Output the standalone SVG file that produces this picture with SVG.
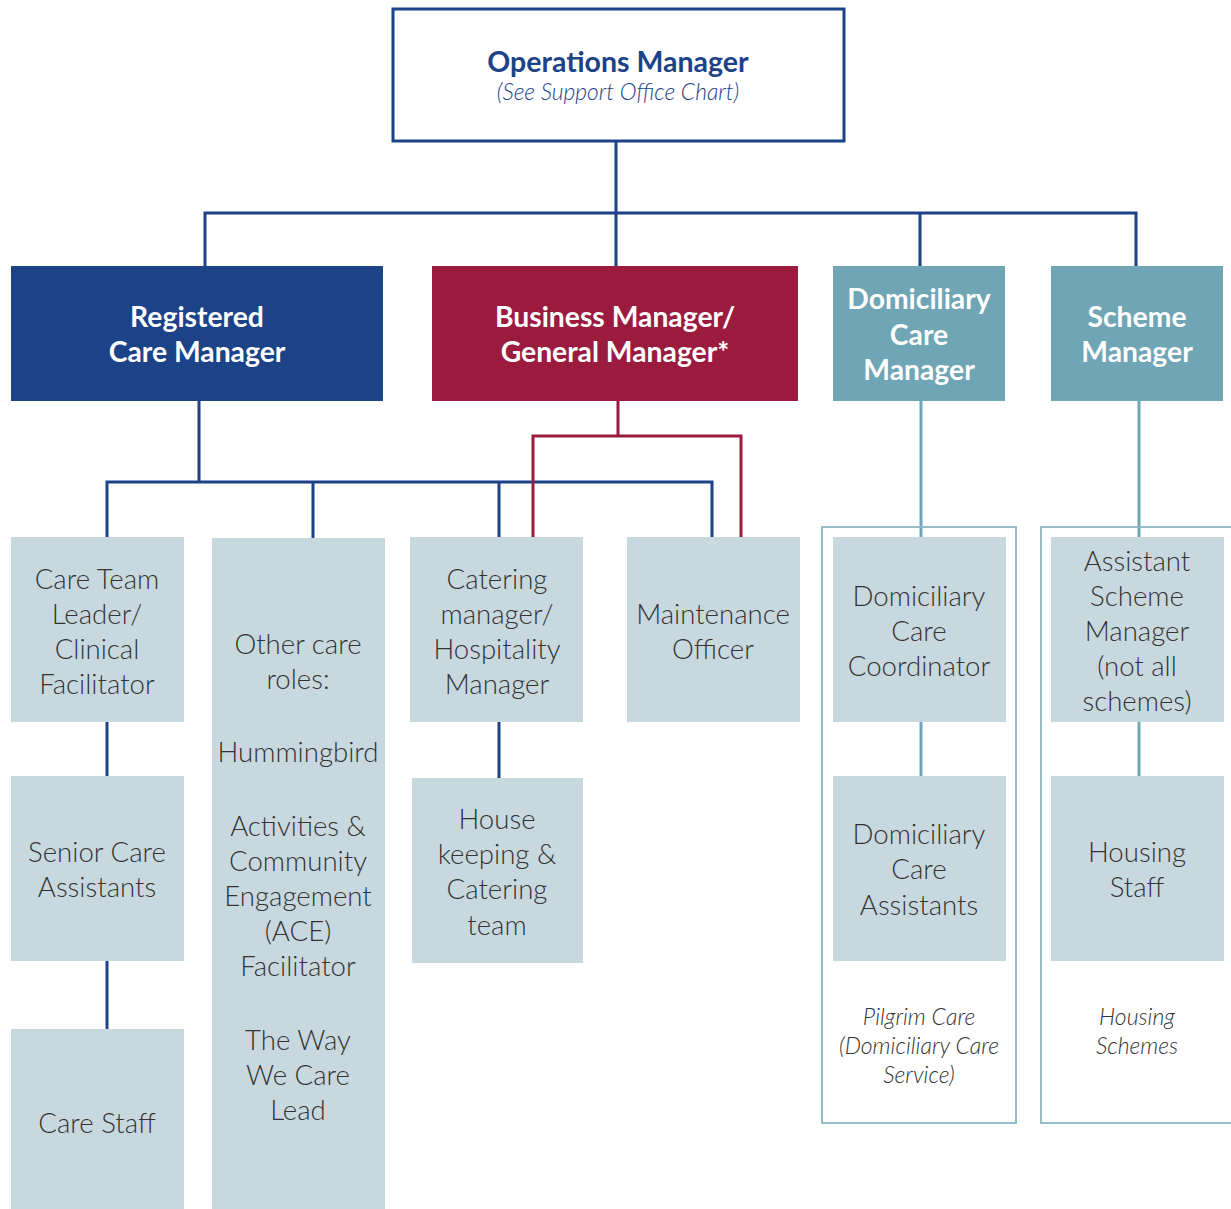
<svg xmlns="http://www.w3.org/2000/svg" width="1231" height="1209" viewBox="0 0 1231 1209">
<style>
.box{fill:#c8d8df}
.t{font-family:Lato,"Source Sans Pro","Noto Sans",sans-serif;font-size:27.6px;font-weight:300;fill:#333;text-anchor:middle}
.h{font-family:Lato,"Noto Sans",sans-serif;font-size:28.3px;font-weight:700;fill:#fff;text-anchor:middle}
.it{font-family:Lato,"Noto Sans",sans-serif;font-size:23px;font-style:italic;font-weight:300;fill:#333;text-anchor:middle}
.cb{stroke:#1c4287;stroke-width:3;fill:none}
.cr{stroke:#9b1b3e;stroke-width:3;fill:none}
.ct{stroke:#6fa5b5;stroke-width:3;fill:none}
.ol{stroke:#8ab5c2;stroke-width:1.8;fill:none}
</style>
<rect width="1231" height="1209" fill="#fff"/>
<g id="connectors">
<path class="cb" d="M616 141V213M205 266V213H1136V266M616 213V266M920 213V266"/>
<path class="cb" d="M199 401V482M107 537V482H712V537M313 482V538M499 482V537"/>
<path class="cr" d="M618 401V436M533 537V436H741V537"/>
<path class="cb" d="M107 722V776M107 961V1029M499 722V778"/>
<path class="ct" d="M921 401V537M921 722V776M1139 401V537M1139 722V776"/>
</g>
<g id="outline-pilgrim"><rect class="ol" x="822" y="527" width="194" height="596"/></g>
<g id="outline-housing"><rect class="ol" x="1041" y="527" width="200" height="596"/></g>
<g id="ops">
<rect x="393" y="9" width="451" height="132" fill="#fff" stroke="#1c4287" stroke-width="3"/>
<text x="618" y="72" font-family="Lato,'Noto Sans',sans-serif" font-size="28.5" font-weight="700" fill="#1c4287" text-anchor="middle">Operations Manager</text>
<text x="618" y="100" font-family="Lato,'Noto Sans',sans-serif" font-size="22.8" font-style="italic" font-weight="300" fill="#1c4287" text-anchor="middle">(See Support Office Chart)</text>
</g>
<g id="rcm"><rect x="11" y="266" width="372" height="135" fill="#1c4287"/>
<text class="h" x="197" y="327">Registered</text><text class="h" x="197" y="362">Care Manager</text></g>
<g id="bm"><rect x="432" y="266" width="366" height="135" fill="#9b1b3e"/>
<text class="h" x="615" y="327">Business Manager/</text><text class="h" x="615" y="362">General Manager*</text></g>
<g id="dcm"><rect x="833" y="266" width="172" height="135" fill="#6fa5b5"/>
<text class="h" x="919" y="309">Domiciliary</text><text class="h" x="919" y="345">Care</text><text class="h" x="919" y="380">Manager</text></g>
<g id="sm"><rect x="1051" y="266" width="172" height="135" fill="#6fa5b5"/>
<text class="h" x="1137" y="327">Scheme</text><text class="h" x="1137" y="362">Manager</text></g>
<g id="ctl"><rect class="box" x="11" y="537" width="173" height="185"/>
<text class="t" x="97" y="589">Care Team</text><text class="t" x="97" y="624">Leader/</text><text class="t" x="97" y="659">Clinical</text><text class="t" x="97" y="694">Facilitator</text></g>
<g id="ocr"><rect class="box" x="212" y="538" width="173" height="671"/>
<text class="t" x="298" y="654">Other care</text><text class="t" x="298" y="689">roles:</text>
<text class="t" x="298" y="762">Hummingbird</text>
<text class="t" x="298" y="836">Activities &amp;</text><text class="t" x="298" y="871">Community</text><text class="t" x="298" y="906">Engagement</text><text class="t" x="298" y="941">(ACE)</text><text class="t" x="298" y="976">Facilitator</text>
<text class="t" x="298" y="1050">The Way</text><text class="t" x="298" y="1085">We Care</text><text class="t" x="298" y="1120">Lead</text></g>
<g id="cat"><rect class="box" x="410" y="537" width="173" height="185"/>
<text class="t" x="497" y="589">Catering</text><text class="t" x="497" y="624">manager/</text><text class="t" x="497" y="659">Hospitality</text><text class="t" x="497" y="694">Manager</text></g>
<g id="mo"><rect class="box" x="627" y="537" width="173" height="185"/>
<text class="t" x="713" y="624">Maintenance</text><text class="t" x="713" y="659">Officer</text></g>
<g id="dcc"><rect class="box" x="833" y="537" width="173" height="185"/>
<text class="t" x="919" y="606">Domiciliary</text><text class="t" x="919" y="641">Care</text><text class="t" x="919" y="676">Coordinator</text></g>
<g id="asm"><rect class="box" x="1051" y="537" width="173" height="185"/>
<text class="t" x="1137" y="571">Assistant</text><text class="t" x="1137" y="606">Scheme</text><text class="t" x="1137" y="641">Manager</text><text class="t" x="1137" y="676">(not all</text><text class="t" x="1137" y="711">schemes)</text></g>
<g id="sca"><rect class="box" x="11" y="776" width="173" height="185"/>
<text class="t" x="97" y="862">Senior Care</text><text class="t" x="97" y="897">Assistants</text></g>
<g id="hk"><rect class="box" x="412" y="778" width="171" height="185"/>
<text class="t" x="497" y="829">House</text><text class="t" x="497" y="864">keeping &amp;</text><text class="t" x="497" y="899">Catering</text><text class="t" x="497" y="935">team</text></g>
<g id="dca"><rect class="box" x="833" y="776" width="173" height="185"/>
<text class="t" x="919" y="844">Domiciliary</text><text class="t" x="919" y="879">Care</text><text class="t" x="919" y="915">Assistants</text></g>
<g id="hs"><rect class="box" x="1051" y="776" width="173" height="185"/>
<text class="t" x="1137" y="862">Housing</text><text class="t" x="1137" y="897">Staff</text></g>
<g id="cs"><rect class="box" x="11" y="1029" width="173" height="180"/>
<text class="t" x="97" y="1133">Care Staff</text></g>
<g id="pilgrim-label"><text class="it" x="919" y="1025">Pilgrim Care</text><text class="it" x="919" y="1054">(Domiciliary Care</text><text class="it" x="919" y="1083">Service)</text></g>
<g id="housing-label"><text class="it" x="1137" y="1025">Housing</text><text class="it" x="1137" y="1054">Schemes</text></g>
</svg>
